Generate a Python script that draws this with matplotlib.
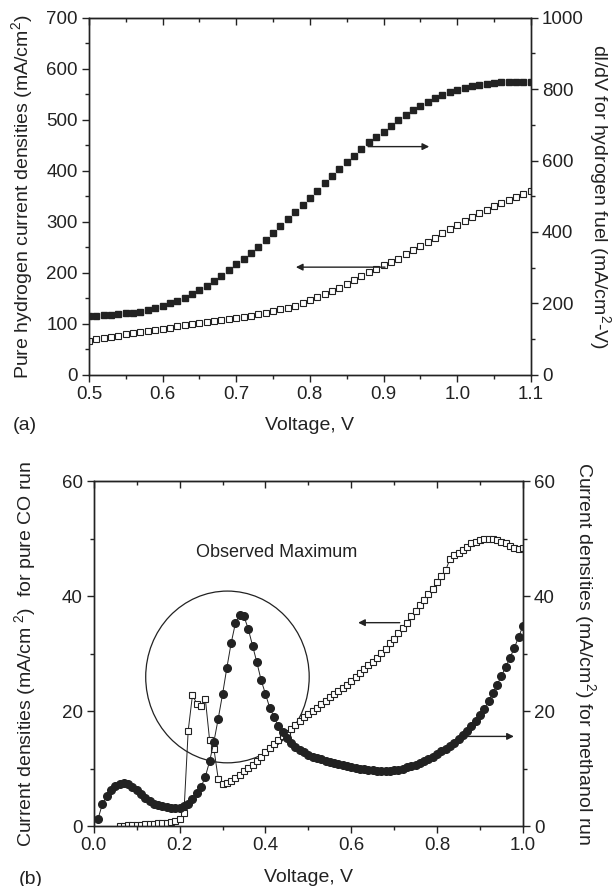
import matplotlib
matplotlib.use("Agg")
import matplotlib.pyplot as plt
from matplotlib.patches import Ellipse
from matplotlib.ticker import MultipleLocator
import numpy as np

plt.rcParams['font.family'] = ['Liberation Sans', 'DejaVu Sans']
plt.rcParams['mathtext.fontset'] = 'custom'
plt.rcParams['mathtext.rm'] = 'Liberation Sans'

INK = '#222222'

# ---- panel (a): pure hydrogen ----
v_h2 = np.round(np.arange(0.50, 1.101, 0.01), 2)
j_h2 = [67, 70, 72, 75, 77, 80, 82, 84, 86, 88,
        90, 92, 95, 97, 100, 102, 104, 105, 107, 109,
        111, 113, 116, 119, 122, 125, 128, 131, 135, 140,
        147, 152, 158, 164, 171, 178, 185, 194, 202, 208,
        216, 222, 227, 236, 244, 253, 261, 269, 277, 285,
        293, 301, 309, 317, 323, 330, 336, 342, 348, 354, 360]
didv_h2 = [166, 166, 167, 168, 170, 172, 174, 177, 181, 186,
           192, 200, 208, 216, 226, 237, 249, 263, 277, 293,
           309, 325, 341, 358, 378, 397, 416, 436, 456, 475,
           494, 515, 536, 556, 575, 595, 614, 632, 651, 665,
           681, 697, 713, 728, 741, 754, 765, 775, 784, 792,
           798, 803, 808, 812, 815, 818, 819, 820, 821, 821, 821]

# ---- panel (b): CO and methanol ----
v_co = np.round(np.arange(0.06, 1.001, 0.01), 2)
j_co = [0.0, 0.05, 0.1, 0.15, 0.2, 0.25, 0.3, 0.35, 0.4, 0.45,
        0.5, 0.6, 0.7, 0.8, 1.2, 2.2, 16.6, 22.8, 21.3, 20.9,
        22.1, 14.9, 13.4, 8.2, 7.4, 7.5, 7.8, 8.3, 8.9, 9.5,
        10.1, 10.7, 11.4, 12.1, 12.8, 13.5, 14.2, 14.9, 15.6, 16.2,
        16.9, 17.6, 18.3, 18.9, 19.5, 20.1, 20.6, 21.2, 21.8, 22.4,
        23.0, 23.5, 24.0, 24.6, 25.2, 25.9, 26.6, 27.3, 28.0, 28.6,
        29.3, 30.1, 30.9, 31.8, 32.6, 33.6, 34.4, 35.4, 36.5, 37.5,
        38.5, 39.4, 40.4, 41.3, 42.4, 43.6, 44.5, 46.5, 47.2, 47.5,
        48.0, 48.6, 49.2, 49.5, 49.8, 50.0, 50.0, 49.9, 49.8, 49.5,
        49.2, 48.8, 48.4, 48.3, 48.4]
v_meoh = np.round(np.arange(0.01, 1.001, 0.01), 2)
j_meoh = [1.3, 3.8, 5.2, 6.3, 6.9, 7.3, 7.5, 7.3, 6.8, 6.2,
          5.5, 4.9, 4.4, 3.9, 3.6, 3.4, 3.3, 3.2, 3.2, 3.2,
          3.4, 3.9, 4.7, 5.7, 6.8, 8.6, 11.3, 14.7, 18.7, 22.9,
          27.5, 31.8, 35.3, 36.8, 36.5, 34.3, 31.4, 28.5, 25.4, 23.0,
          20.6, 19.0, 17.4, 16.3, 15.3, 14.5, 13.8, 13.2, 12.8, 12.4,
          12.1, 11.8, 11.6, 11.4, 11.2, 11.0, 10.8, 10.6, 10.4, 10.2,
          10.1, 10.0, 9.9, 9.8, 9.7, 9.6, 9.6, 9.6, 9.6, 9.7,
          9.8, 10.0, 10.2, 10.4, 10.7, 11.0, 11.3, 11.7, 12.1, 12.5,
          13.0, 13.4, 13.9, 14.5, 15.1, 15.8, 16.6, 17.4, 18.3, 19.3,
          20.4, 21.7, 23.1, 24.6, 26.1, 27.7, 29.3, 31.0, 32.9, 34.8]


def style_axes(ax, twin, xmaj, xmin, ymaj, ymin, y2maj, y2min):
    for a in (ax, twin):
        for s in a.spines.values():
            s.set_color(INK)
            s.set_linewidth(1.0)
    ax.xaxis.set_major_locator(MultipleLocator(xmaj))
    ax.xaxis.set_minor_locator(MultipleLocator(xmin))
    ax.yaxis.set_major_locator(MultipleLocator(ymaj))
    ax.yaxis.set_minor_locator(MultipleLocator(ymin))
    twin.yaxis.set_major_locator(MultipleLocator(y2maj))
    twin.yaxis.set_minor_locator(MultipleLocator(y2min))
    for a in (ax, twin):
        a.tick_params(which='major', direction='out', length=5, width=1,
                      color=INK, labelsize=13.5, labelcolor=INK, pad=3)
        a.tick_params(which='minor', direction='out', length=3, width=1,
                      color=INK)
    # top ticks point inwards, unlike the others
    top = ax.secondary_xaxis('top')
    top.xaxis.set_major_locator(MultipleLocator(xmaj))
    top.xaxis.set_minor_locator(MultipleLocator(xmin))
    top.tick_params(which='major', direction='in', length=5, width=1,
                    color=INK, labeltop=False)
    top.tick_params(which='minor', direction='in', length=3, width=1,
                    color=INK)
    top.spines['top'].set_color(INK)


fig = plt.figure(figsize=(6.13, 8.86), dpi=100)

# panel (a)
ax1 = fig.add_axes([0.145, 0.577, 0.721, 0.403])
ax1r = ax1.twinx()
ax1.plot(v_h2, j_h2, ls='none', marker='s', ms=5, mfc='white',
         mec=INK, mew=0.8)
ax1r.plot(v_h2, didv_h2, ls='none', marker='s', ms=5, mfc=INK, mec=INK)
ax1.set_xlim(0.5, 1.1)
ax1.set_ylim(0, 700)
ax1r.set_ylim(0, 1000)
style_axes(ax1, ax1r, 0.1, 0.05, 100, 50, 200, 100)
ax1.xaxis.set_major_formatter(lambda x, p: f"{x:.1f}")

ax1.set_xlabel("Voltage, V", fontsize=14, color=INK)
ax1.xaxis.set_label_coords(0.5, -0.118)
ax1.set_ylabel("Pure hydrogen current densities (mA/cm$^2$)",
               fontsize=14, color=INK)
ax1.yaxis.set_label_coords(-0.12, 0.5)
ax1r.set_ylabel("dI/dV for hydrogen fuel (mA/cm$^2$-V)", fontsize=14,
                color=INK, rotation=270, va='bottom')
ax1r.yaxis.set_label_coords(1.125, 0.5)

ax1r.annotate('', xy=(0.962, 639), xytext=(0.879, 639),
              arrowprops=dict(arrowstyle='-|>', color=INK, lw=1.0,
                              mutation_scale=10, shrinkA=0, shrinkB=0))
ax1.annotate('', xy=(0.781, 211), xytext=(0.902, 211),
             arrowprops=dict(arrowstyle='-|>', color=INK, lw=1.0,
                             mutation_scale=10, shrinkA=0, shrinkB=0))
fig.text(0.02, 1 - 425 / 886, "(a)", fontsize=14, color=INK,
         ha='left', va='center')

# panel (b)
ax2 = fig.add_axes([0.153, 0.0677, 0.700, 0.389])
ax2r = ax2.twinx()
ax2.plot(v_co, j_co, color=INK, lw=0.7, marker='s', ms=4.8,
         mfc='white', mec=INK, mew=0.8)
ax2r.plot(v_meoh, j_meoh, color=INK, lw=0.7, marker='o', ms=5.5,
          mfc=INK, mec=INK)
ax2.set_xlim(0, 1.0)
ax2.set_ylim(0, 60)
ax2r.set_ylim(0, 60)
style_axes(ax2, ax2r, 0.2, 0.1, 20, 10, 20, 10)
ax2.xaxis.set_major_formatter(lambda x, p: f"{x:.1f}")

ax2.set_xlabel("Voltage, V", fontsize=14, color=INK)
ax2.xaxis.set_label_coords(0.5, -0.125)
ax2.set_ylabel("Current densities (mA/cm$^{\\ 2}$)  for pure CO run",
               fontsize=14, color=INK)
ax2.yaxis.set_label_coords(-0.128, 0.5)
ax2r.set_ylabel("Current densities (mA/cm$^2$) for methanol run",
                fontsize=14, color=INK, rotation=270, va='bottom')
ax2r.yaxis.set_label_coords(1.112, 0.5)

ax2.add_patch(Ellipse((0.3115, 25.95), 0.381, 29.9, fill=False,
                      ec=INK, lw=0.9))
ax2.text(0.425, 47.6, "Observed Maximum", fontsize=13, color=INK,
         ha='center', va='center')
ax2.annotate('', xy=(0.616, 35.4), xytext=(0.713, 35.4),
             arrowprops=dict(arrowstyle='-|>', color=INK, lw=1.0,
                             mutation_scale=10, shrinkA=0, shrinkB=0))
ax2r.annotate('', xy=(0.979, 15.6), xytext=(0.862, 15.6),
              arrowprops=dict(arrowstyle='-|>', color=INK, lw=1.0,
                              mutation_scale=10, shrinkA=0, shrinkB=0))
fig.text(0.03, 1 - 879 / 886, "(b)", fontsize=14, color=INK,
         ha='left', va='center')

fig.savefig("out.png", dpi=100)
